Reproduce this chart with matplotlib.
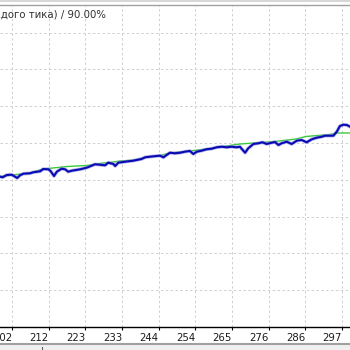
import numpy as np
from matplotlib import pyplot as plt
from matplotlib.lines import Line2D
from matplotlib.patches import Rectangle

# equity curve (trade number, value)
equity_x = [198.6, 199.3, 200.5, 201.9, 202.9, 203.5, 204.3, 205.3, 207.2, 208.1,
            210.1, 211.0, 212.5, 213.1, 214.1, 214.9, 216.3, 217.3, 218.2, 219.2,
            221.6, 223.5, 225.9, 227.3, 228.8, 229.7, 231.2, 231.7, 232.6, 234.0,
            235.5, 236.9, 237.9, 239.3, 240.3, 241.7, 243.7, 244.6, 245.6, 246.5,
            247.5, 248.9, 250.4, 251.8, 253.2, 254.2, 255.2, 256.6, 258.0, 259.5,
            260.9, 262.4, 263.8, 265.2, 266.7, 267.6, 269.1, 270.0, 271.5, 272.9,
            274.1, 275.3, 276.8, 277.7, 278.7, 279.6, 281.1, 282.5, 284.0, 285.4,
            286.8, 288.3, 289.7, 291.2, 292.1, 294.5, 295.5, 296.4, 297.4, 298.4,
            299.3]
equity_y = [4084, 4068, 4130, 4139, 4084, 4049, 4122, 4166, 4177, 4204,
            4231, 4293, 4285, 4239, 4103, 4220, 4302, 4285, 4220, 4247,
            4285, 4329, 4421, 4410, 4394, 4465, 4429, 4375, 4465, 4484,
            4503, 4519, 4538, 4565, 4611, 4628, 4647, 4655, 4611, 4674,
            4736, 4720, 4736, 4764, 4783, 4701, 4764, 4791, 4829, 4845,
            4883, 4899, 4883, 4899, 4883, 4899, 4736, 4856, 4973, 4992,
            5019, 4973, 5008, 5027, 4946, 4992, 5035, 4973, 5063, 5082,
            5019, 5101, 5144, 5171, 5198, 5198, 5307, 5462, 5497, 5489,
            5443]

# balance curve
balance_x = [198.6, 202.0, 207.2, 210.9, 213.8, 217.8, 223.6, 228.2, 230.2, 233.1,
             236.8, 240.3, 244.6, 247.5, 253.2, 259.0, 267.6, 274.0, 277.7, 283.8,
             286.6, 293.5, 295.6, 299.3]
balance_y = [4090, 4130, 4185, 4293, 4321, 4361, 4389, 4457, 4470, 4511,
             4530, 4606, 4660, 4728, 4783, 4851, 4973, 5014, 5041, 5109,
             5177, 5231, 5272, 5272]

tick_labels = ["202", "212", "223", "233", "244", "254", "265", "276", "286", "297"]
title = "Моделирование: Все тики (генерация каждого тика) / 90.00%"

W = H = 350.0
fig = plt.figure(figsize=(3.5, 3.5), dpi=100)
ax = fig.add_axes([0, 1 - 327 / H, 1, 322 / H])

ax.plot(balance_x, balance_y, color="#3cc83c", lw=1.0, zorder=3)
ax.plot(equity_x, equity_y, color="#8c8ce0", lw=2.6, zorder=4, alpha=0.6)
ax.plot(equity_x, equity_y, color="#0a0ab4", lw=1.5, zorder=5)

ax.set_xlim(198.55, 299.3)
ax.set_ylim(0, 8750)

ticks = np.linspace(202, 297, len(tick_labels))
ax.set_xticks(ticks)
ax.set_xticklabels(tick_labels, fontsize=7.3, color="#1a1a1a")
for lbl in ax.get_xticklabels():
    lbl.set_ha("right")
ax.tick_params(axis="x", direction="out", length=2, width=0.8, pad=2, color="#000000")
ax.set_yticks(np.arange(1000, 8001, 1000))
ax.tick_params(axis="y", length=0, labelleft=False)

ax.grid(True, color="#cfcfcf", lw=0.7, ls=(0, (2.5, 2.5)))
ax.set_axisbelow(True)

for s in ["left", "right"]:
    ax.spines[s].set_visible(False)
ax.spines["bottom"].set_color("#000000")
ax.spines["bottom"].set_linewidth(1.0)
ax.spines["top"].set_color("#a0a0a0")
ax.spines["top"].set_linewidth(1.0)

fig.text(106 / W, 1 - 14.5 / H, title, ha="right", va="center",
         fontsize=7.3, color="#303030")

# window frame bits
fig.add_artist(Line2D([0, 1], [1 - 0.8 / H, 1 - 0.8 / H], color="#d0d0d0", lw=1.2))
fig.add_artist(Rectangle((0, 0), 1, 6 / H, color="#f0f0f0", zorder=0))
fig.add_artist(Line2D([0, 1], [6 / H, 6 / H], color="#a0a0a0", lw=1.5))
fig.add_artist(Line2D([42 / W, 42 / W], [0, 3 / H], color="#606060", lw=0.8))

fig.savefig("out.png", dpi=100)
